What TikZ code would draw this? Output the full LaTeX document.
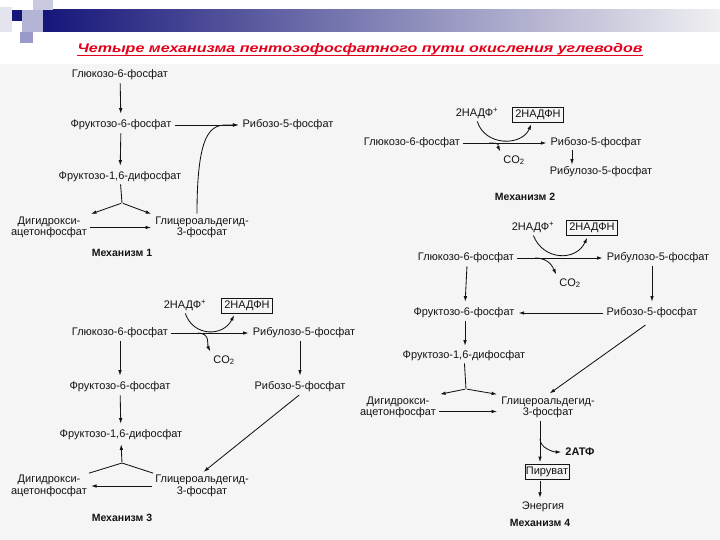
\documentclass[tikz,border=0pt]{standalone}
\usepackage{fontspec}
\setmainfont{Liberation Sans}
\usetikzlibrary{arrows.meta,calc}
\definecolor{navy}{HTML}{16167A}
\definecolor{barend}{HTML}{F0F0F2}
\definecolor{lavA}{HTML}{C9C9E0}
\definecolor{lavB}{HTML}{B4B4D6}
\definecolor{lavC}{HTML}{9A9AC8}
\definecolor{lavD}{HTML}{E4E4EE}
\definecolor{titlered}{HTML}{E3001A}
\definecolor{ink}{HTML}{141414}
\tikzset{
  lbl/.style={font=\fontsize{11}{11.5}\selectfont, text=ink, inner sep=2pt, align=center},
  boxlbl/.style={lbl, draw=ink, line width=0.8pt, inner xsep=2.5pt, inner ysep=2.5pt},
  mech/.style={font=\fontsize{10.5}{11}\selectfont\bfseries, text=ink, inner sep=2pt},
  arr/.style={draw=ink, line width=0.85pt, -{Latex[length=5.5pt,width=3.6pt]}, shorten >=2pt, shorten <=1pt},
  ln/.style={draw=ink, line width=0.85pt},
}
\begin{document}
\begin{tikzpicture}[x=1pt,y=-1pt]
\useasboundingbox (0,0) rectangle (720,540);
\fill[white] (0,0) rectangle (720,540);
\fill[black!4] (0,64) rectangle (720,540);
% header decoration
\shade[left color=navy, right color=barend] (43,10) rectangle (720,32);
\fill[lavD] (0,7) rectangle (12,32);
\fill[lavA] (33,0) rectangle (53,10);
\fill[lavB] (22,10) rectangle (43,32);
\fill[navy] (12,10) rectangle (22,21);
\fill[lavC] (20,32) rectangle (33,43);
% title
\node[anchor=base, inner sep=0pt, text=titlered] (title) at (360,53)
  {\resizebox{565pt}{\height}{\fontsize{12.5}{14}\selectfont\bfseries\itshape Четыре механизма пентозофосфатного пути окисления углеводов}};
\draw[titlered, line width=1pt] ([yshift=-2.5pt]title.base west) -- ([yshift=-2.5pt]title.base east);

% ---------- Mechanism 1 ----------
\node[lbl] (g1) at (120,75) {Глюкозо-6-фосфат};
\node[lbl] (f1) at (121,125) {Фруктозо-6-фосфат};
\node[lbl] (r1) at (288,125) {Рибозо-5-фосфат};
\node[lbl] (fd1) at (120,177) {Фруктозо-1,6-дифосфат};
\coordinate (j1) at (122,203);
\node[lbl] (dh1) at (49,227.5) {Дигидрокси-\\ацетонфосфат};
\node[lbl] (gl1) at (202,227.5) {Глицероальдегид-\\3-фосфат};
\node[mech] (m1) at (122,253) {Механизм 1};
\draw[arr, shorten >=4pt] (g1) -- (f1);
\draw[arr, shorten >=4pt] (f1) -- (fd1);
\draw[arr] (f1) -- (r1);
\draw[arr] ([xshift=-5pt]gl1.north) .. controls +(0,-95) and +(-25,0) .. (r1.west);
\draw[ln] (fd1) -- (j1);
\draw[arr] (j1) -- (dh1.north east);
\draw[arr] (j1) -- (gl1.north west);
\draw[arr] (dh1) -- (gl1);

% ---------- Mechanism 2 ----------
\node[lbl] (n2) at (477,113) {2НАДФ\textsuperscript{+}};
\node[boxlbl] (h2) at (538,114.5) {2НАДФН};
\node[lbl] (g2) at (412,143) {Глюкозо-6-фосфат};
\node[lbl] (r2) at (596,143) {Рибозо-5-фосфат};
\node[lbl] (co2) at (514,160) {CO\textsubscript{2}};
\node[lbl] (ru2) at (601,172) {Рибулозо-5-фосфат};
\node[mech] (m2) at (525,197) {Механизм 2};
\draw[arr] (g2) -- (r2);
\draw[arr] (n2.south) .. controls +(8,26) and +(-10,24) .. ([xshift=-6pt]h2.south);
\draw[arr] ($(g2.east)!0.3!(r2.west)$) .. controls +(14,0) and +(-4,-8) .. (co2.north west);
\coordinate (r2a) at ($(r2.south)+(-24,0)$);
\draw[arr, shorten >=0pt, shorten <=0pt] (r2a) -- (r2a |- ru2.north);

% ---------- Mechanism 3 ----------
\node[lbl] (n3) at (185,305) {2НАДФ\textsuperscript{+}};
\node[boxlbl] (h3) at (247,305.5) {2НАДФН};
\node[lbl] (g3) at (120,333) {Глюкозо-6-фосфат};
\node[lbl] (ru3) at (304,333) {Рибулозо-5-фосфат};
\node[lbl] (co3) at (224,360) {CO\textsubscript{2}};
\node[lbl] (f3) at (120,387) {Фруктозо-6-фосфат};
\node[lbl] (r3) at (300,387) {Рибозо-5-фосфат};
\node[lbl] (fd3) at (121,435) {Фруктозо-1,6-дифосфат};
\coordinate (j3) at (122,463);
\node[lbl] (dh3) at (49,486) {Дигидрокси-\\ацетонфосфат};
\node[lbl] (gl3) at (202,486) {Глицероальдегид-\\3-фосфат};
\node[mech] (m3) at (122,518) {Механизм 3};
\draw[arr] (g3) -- (ru3);
\draw[arr] (n3.south) .. controls +(8,24) and +(-12,24) .. ([xshift=-12pt]h3.south);
\draw[arr] ($(g3.east)!0.33!(ru3.west)$) .. controls +(14,0) and +(-4,-8) .. (co3.north west);
\draw[arr, shorten >=4pt] (g3) -- (f3);
\draw[arr, shorten >=4pt] (f3) -- (fd3);
\draw[arr, shorten >=4pt] (ru3.south -| r3.north) -- (r3.north);
\draw[arr] (r3.south) -- (gl3.north);
\draw[ln] (dh3.north east) -- (j3) -- (gl3.north west);
\draw[arr] (j3) -- (fd3.south);
\draw[arr] (gl3) -- (dh3);

% ---------- Mechanism 4 ----------
\node[lbl] (n4) at (533,227) {2НАДФ\textsuperscript{+}};
\node[boxlbl] (h4) at (592,228) {2НАДФН};
\node[lbl] (g4) at (466,258) {Глюкозо-6-фосфат};
\node[lbl] (ru4) at (658,258) {Рибулозо-5-фосфат};
\node[lbl] (co4) at (570,283) {CO\textsubscript{2}};
\node[lbl] (f4) at (464,313) {Фруктозо-6-фосфат};
\node[lbl] (r4) at (652,313) {Рибозо-5-фосфат};
\node[lbl] (fd4) at (464,356) {Фруктозо-1,6-дифосфат};
\coordinate (j4) at (466,389);
\node[lbl] (dh4) at (398,407.5) {Дигидрокси-\\ацетонфосфат};
\node[lbl] (gl4) at (548,407.5) {Глицероальдегид-\\3-фосфат};
\node[lbl, font=\fontsize{11}{11.5}\selectfont\bfseries] (atp) at (580,452) {2АТФ};
\node[boxlbl, inner xsep=1pt] (pir) at (547,472) {Пируват};
\node[lbl] (en) at (543,507) {Энергия};
\node[mech] (m4) at (540,523) {Механизм 4};
\draw[arr] (g4) -- (ru4);
\draw[arr] (n4.south) .. controls +(10,26) and +(-12,26) .. ([xshift=-4pt]h4.south);
\draw[arr] ($(g4.east)!0.2!(ru4.west)$) .. controls +(16,0) and +(-4,-8) .. (co4.north west);
\draw[arr, shorten >=4pt] ([xshift=1pt]g4.south) -- ([xshift=1pt]f4.north);
\draw[arr, shorten >=4pt] (ru4.south -| r4.north) -- (r4.north);
\draw[arr] (r4) -- (f4);
\draw[arr, shorten >=3pt] ([xshift=1pt]f4.south) -- ([xshift=1pt]fd4.north);
\draw[arr, shorten <=8pt] (r4.south) -- (gl4.north);
\draw[ln] (fd4) -- (j4);
\draw[arr] (j4) -- (dh4.north east);
\draw[arr] (j4) -- (gl4.north west);
\draw[arr] ([yshift=-4pt]dh4.east) -- ([yshift=-4pt]gl4.west);
\coordinate (gx) at ($(gl4.south)+(-8,0)$);
\coordinate (px) at (gx |- pir.north);
\draw[arr] (gx) -- (px);
\draw[arr] ($(gx)!0.4!(px)$) .. controls +(0,10) and +(-10,0) .. (atp.west);
\draw[arr] (pir.south -| gx) -- (en.north -| gx);
\end{tikzpicture}
\end{document}
